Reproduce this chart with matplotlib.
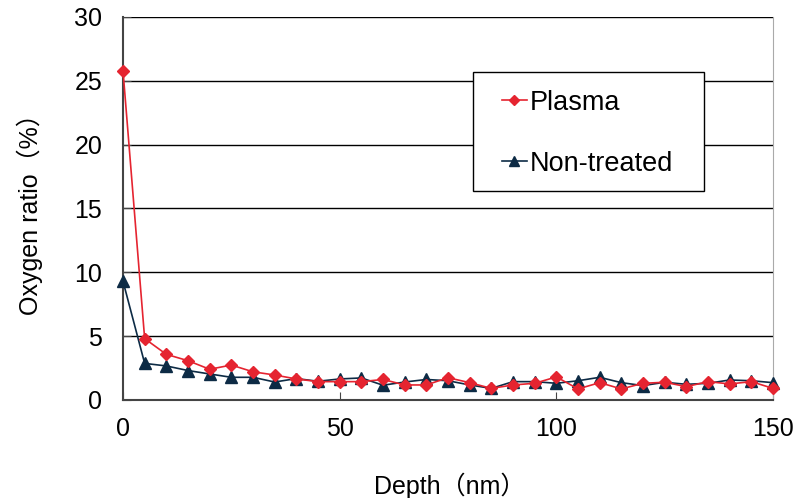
import matplotlib
matplotlib.use('Agg')
import matplotlib.pyplot as plt
from matplotlib.patches import Rectangle
import numpy as np

plt.rcParams['font.family'] = ['Liberation Sans', 'Noto Sans CJK JP', 'DejaVu Sans']

depth = list(range(0, 155, 5))
plasma = [25.8, 4.8, 3.57, 3.07, 2.4, 2.73, 2.2, 1.95, 1.64, 1.43, 1.43, 1.43, 1.6, 1.17, 1.17,
          1.74, 1.35, 0.9, 1.17, 1.3, 1.8, 0.86, 1.35, 0.86, 1.3, 1.38, 1.04, 1.43, 1.25, 1.43, 0.9]
non_treated = [9.3, 2.86, 2.66, 2.3, 2.03, 1.77, 1.77, 1.4, 1.67, 1.46, 1.64, 1.72, 1.15, 1.4, 1.6,
               1.5, 1.17, 0.9, 1.43, 1.43, 1.3, 1.5, 1.77, 1.35, 1.12, 1.38, 1.22, 1.3, 1.56, 1.5, 1.35]

red = '#E52430'
navy = '#0D2B45'

fig = plt.figure(figsize=(8.07, 4.98), dpi=100)
ax = fig.add_axes([0.1524, 0.197, 0.8055, 0.769])

ax.plot(depth, plasma, color=red, lw=1.2, marker='D', ms=6.5, label='Plasma', zorder=4, clip_on=False)
ax.plot(depth, non_treated, color=navy, lw=1.2, marker='^', ms=8.5, label='Non-treated', zorder=3, clip_on=False)

ax.set_xlim(0, 150)
ax.set_ylim(0, 30)
ax.set_xticks([0, 50, 100, 150])
ax.set_yticks(np.arange(0, 31, 5))
ax.yaxis.grid(True, color='black', lw=1)
ax.set_axisbelow(True)
ax.tick_params(direction='in', labelsize=18, length=6, color='#444444')
ax.tick_params(axis='x', pad=12)
ax.tick_params(axis='y', pad=15)
for s in ['left', 'bottom']:
    ax.spines[s].set_color('#444444')
    ax.spines[s].set_linewidth(1.5)
ax.spines['top'].set_visible(False)
ax.spines['right'].set_color('#aaaaaa')

ax.set_xlabel('Depth（nm）', fontsize=18)
ax.set_ylabel('Oxygen ratio（%）', fontsize=18)
ax.xaxis.set_label_coords(0.502, -0.19)
ax.yaxis.set_label_coords(-0.123, 0.5)

# legend box drawn separately so its padding can match
ax.add_patch(Rectangle((0.538, 0.546), 0.356, 0.31, transform=ax.transAxes,
                       facecolor='white', edgecolor='black', lw=1, zorder=5))
leg = ax.legend(loc='center', bbox_to_anchor=(0.7146, 0.696), fontsize=19.5, frameon=False,
                labelspacing=1.3, handlelength=0.9, handletextpad=0.1, borderpad=0,
                borderaxespad=0, markerscale=0.8)
leg.set_zorder(6)

fig.savefig('out.png', dpi=100)
